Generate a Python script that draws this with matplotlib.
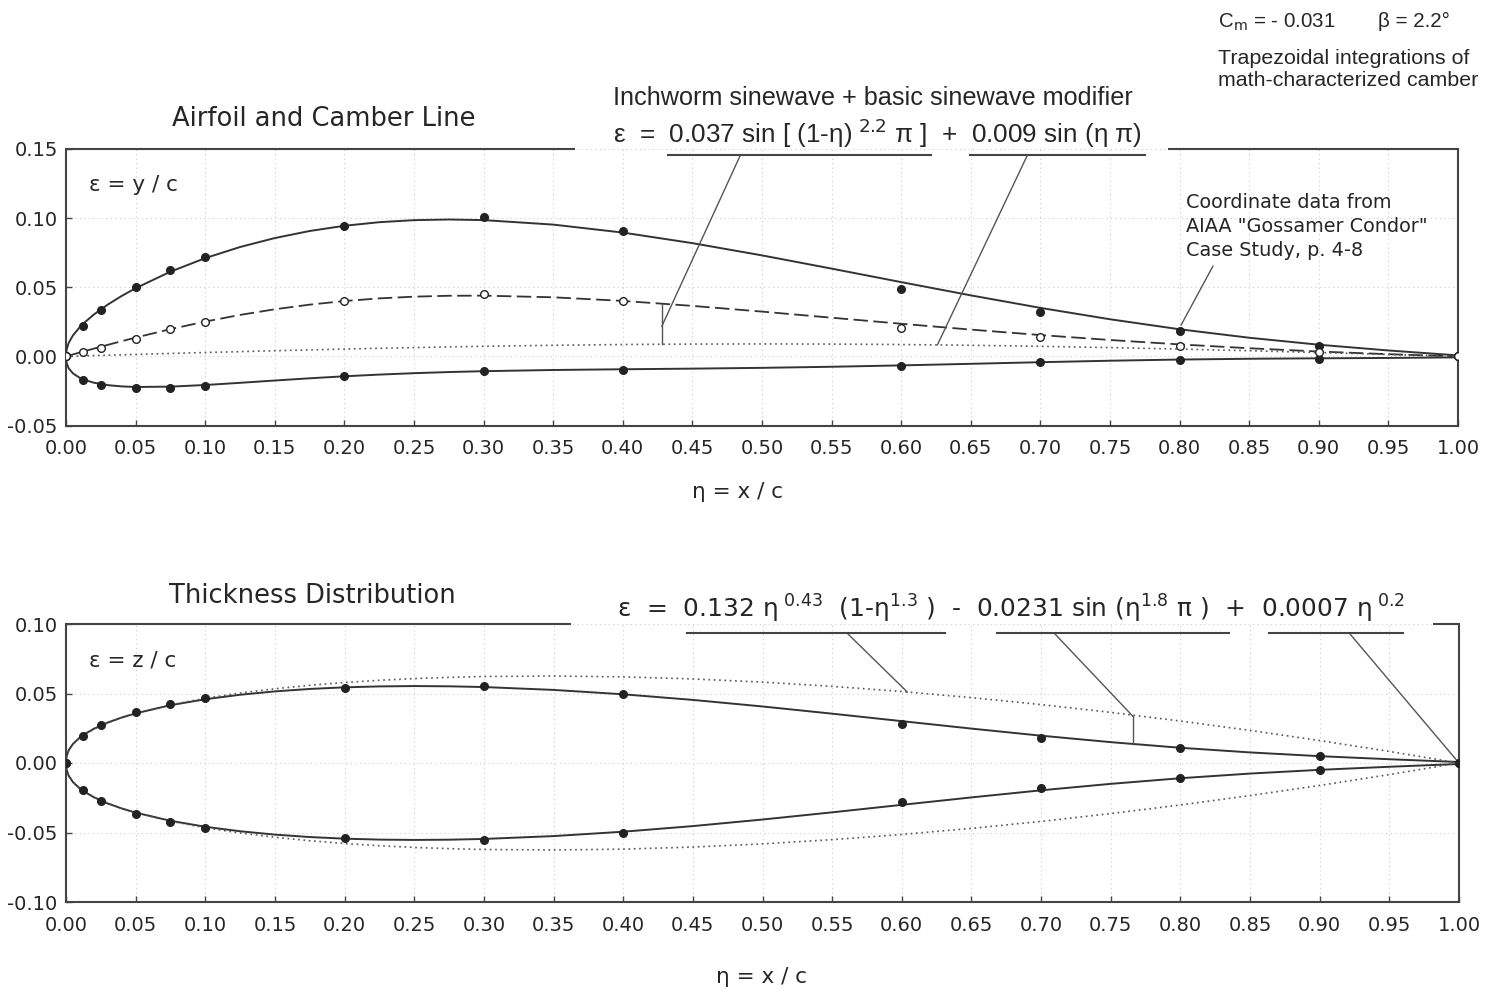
import matplotlib
matplotlib.use("Agg")
import matplotlib.pyplot as plt

plt.rcParams['font.family'] = ['DejaVu Sans']
plt.rcParams['axes.unicode_minus'] = False
plt.rcParams['mathtext.fontset'] = 'dejavusans'

# ------------------------------------------------------------------ data
eta_curve = [0, 0.0005, 0.002, 0.005, 0.01, 0.0125, 0.02, 0.03, 0.04, 0.05,
             0.075, 0.1, 0.125, 0.15, 0.175, 0.2, 0.225, 0.25, 0.275, 0.3, 0.35,
             0.4, 0.45, 0.5, 0.55, 0.6, 0.65, 0.7, 0.75, 0.8, 0.85, 0.9, 0.95, 1.0]

upper_curve = [0, 0.00532, 0.00989, 0.01517, 0.02126, 0.02378, 0.03026, 0.03746,
               0.04371, 0.04929, 0.06126, 0.07105, 0.07909, 0.08559, 0.09068,
               0.09447, 0.09705, 0.09853, 0.09901, 0.09857, 0.09532, 0.08955,
               0.08191, 0.07305, 0.06348, 0.05371, 0.04413, 0.03508, 0.02685,
               0.01960, 0.01348, 0.00843, 0.00428, 0.00070]

lower_curve = [0, -0.00504, -0.00875, -0.01233, -0.01561, -0.01673, -0.01905,
               -0.02081, -0.02173, -0.02213, -0.02189, -0.02071, -0.01913,
               -0.01746, -0.01586, -0.01441, -0.01318, -0.01216, -0.01134,
               -0.01071, -0.00985, -0.00932, -0.00887, -0.00830, -0.00751,
               -0.00652, -0.00538, -0.00421, -0.00315, -0.00229, -0.00173,
               -0.00140, -0.00114, -0.00070]

camber_curve = [0, 0.00014, 0.00057, 0.00142, 0.00282, 0.00352, 0.00560, 0.00833,
                0.01099, 0.01358, 0.01969, 0.02517, 0.02998, 0.03407, 0.03741,
                0.04003, 0.04194, 0.04319, 0.04384, 0.04393, 0.04274, 0.04012,
                0.03652, 0.03238, 0.02798, 0.02360, 0.01937, 0.01543, 0.01185,
                0.00866, 0.00588, 0.00351, 0.00157, 0]

modifier_curve = [0, 0.00001, 0.00006, 0.00014, 0.00028, 0.00035, 0.00057, 0.00085,
                  0.00113, 0.00141, 0.00210, 0.00278, 0.00344, 0.00409, 0.00470,
                  0.00529, 0.00585, 0.00636, 0.00684, 0.00728, 0.00802, 0.00856,
                  0.00889, 0.00900, 0.00889, 0.00856, 0.00802, 0.00728, 0.00636,
                  0.00529, 0.00409, 0.00278, 0.00141, 0]

thick_curve = [0, 0.00518, 0.00932, 0.01375, 0.01844, 0.02025, 0.02465, 0.02913,
               0.03272, 0.03571, 0.04158, 0.04588, 0.04911, 0.05152, 0.05327,
               0.05444, 0.05511, 0.05535, 0.05517, 0.05464, 0.05258, 0.04943,
               0.04539, 0.04067, 0.03549, 0.03011, 0.02475, 0.01965, 0.01500,
               0.01095, 0.00761, 0.00491, 0.00271, 0.00070]

thick_base_curve = [0, 0.00503, 0.00912, 0.01351, 0.01817, 0.01999, 0.02440, 0.02892,
                    0.03257, 0.03566, 0.04184, 0.04659, 0.05037, 0.05342, 0.05591,
                    0.05792, 0.05951, 0.06073, 0.06162, 0.06222, 0.06258, 0.06196,
                    0.06048, 0.05819, 0.05515, 0.05142, 0.04703, 0.04202, 0.03640,
                    0.03019, 0.02344, 0.01615, 0.00833, 0]

eta_data = [0, 0.0125, 0.025, 0.05, 0.075, 0.1, 0.2, 0.3, 0.4, 0.6, 0.7, 0.8, 0.9, 1.0]
upper_data = [0, 0.0220, 0.0337, 0.0502, 0.0624, 0.0717, 0.0941, 0.1005, 0.0910,
              0.0488, 0.0320, 0.0180, 0.0072, 0.0]
lower_data = [0, -0.0171, -0.0210, -0.0232, -0.0232, -0.0217, -0.0144, -0.0107,
              -0.0095, -0.0073, -0.0043, -0.0026, -0.0017, 0.0]
camber_data = [0, 0.0030, 0.0060, 0.0129, 0.0195, 0.0249, 0.0400, 0.0449, 0.0402,
               0.0205, 0.0137, 0.0072, 0.0031, 0.0]
thick_data = [0, 0.0197, 0.0270, 0.0366, 0.0425, 0.0465, 0.0537, 0.0554, 0.0500,
              0.0278, 0.0182, 0.0106, 0.0047, 0.0]

xticks = [i * 0.05 for i in range(21)]
yticks_top = [-0.05, 0.00, 0.05, 0.10, 0.15]
yticks_bot = [-0.10, -0.05, 0.00, 0.05, 0.10]

# ------------------------------------------------------------------ figure
W, H = 1499, 994
fig = plt.figure(figsize=(W / 100, H / 100), dpi=100)
fig.patch.set_facecolor('white')


def fx(x):
    return x / W


def fy(y):
    return 1 - y / H


LINE = '#333333'
SPINE = '#444444'
TXT = '#262626'

ax1 = fig.add_axes([fx(66), fy(425.5), (1458 - 66) / W, (425.5 - 149) / H])
ax2 = fig.add_axes([fx(66), fy(902), (1459 - 66) / W, (902 - 624) / H])


def style(ax, ylim, yticks, top_segments):
    ax.set_xlim(0, 1)
    ax.set_ylim(*ylim)
    ax.set_xticks(xticks)
    ax.set_xticklabels([f"{t:.2f}" for t in xticks])
    ax.set_yticks(yticks)
    ax.set_yticklabels([f"{t:.2f}" for t in yticks])
    ax.grid(True, color='#cccccc', lw=0.8, linestyle=(0, (1, 3)))
    ax.set_axisbelow(True)
    ax.tick_params(axis='x', direction='in', length=4, width=1, colors=SPINE,
                   labelcolor=TXT, labelsize=14, pad=10)
    ax.tick_params(axis='y', direction='in', length=4, width=1, colors=SPINE,
                   labelcolor=TXT, labelsize=14, pad=6)
    for s in ['left', 'bottom', 'right']:
        ax.spines[s].set_linewidth(1.5)
        ax.spines[s].set_color(SPINE)
    ax.spines['top'].set_visible(False)
    for a, b in top_segments:
        ax.plot([a, b], [1, 1], transform=ax.transAxes, color=SPINE, lw=1.5,
                clip_on=False, solid_capstyle='butt')


style(ax1, (-0.05, 0.15), yticks_top, [(0, (575 - 66) / 1392), ((1168 - 66) / 1392, 1)])
style(ax2, (-0.10, 0.10), yticks_bot, [(0, (571 - 66) / 1393), ((1433 - 66) / 1393, 1)])

# ---- top panel curves
ax1.plot(eta_curve, upper_curve, color=LINE, lw=1.4, zorder=3)
ax1.plot(eta_curve, lower_curve, color=LINE, lw=1.4, zorder=3)
ax1.plot(eta_curve, camber_curve, color=LINE, lw=1.3, linestyle=(0, (8, 3.0)), zorder=3)
ax1.plot(eta_curve, modifier_curve, color='#555555', lw=1.2, linestyle=(0, (1, 2.2)), zorder=3)
ax1.plot(eta_data, upper_data, 'o', color='#222222', ms=5.5, zorder=4)
ax1.plot(eta_data, lower_data, 'o', color='#222222', ms=5.5, zorder=4)
ax1.plot(eta_data, camber_data, 'o', mfc='white', mec='#222222', mew=1.0, ms=5.5, zorder=5)

# ---- bottom panel curves
ax2.plot(eta_curve, thick_curve, color=LINE, lw=1.4, zorder=3)
ax2.plot(eta_curve, [-v for v in thick_curve], color=LINE, lw=1.4, zorder=3)
ax2.plot(eta_curve, thick_base_curve, color='#555555', lw=1.2, linestyle=(0, (1, 2.2)), zorder=3)
ax2.plot(eta_curve, [-v for v in thick_base_curve], color='#555555', lw=1.2,
         linestyle=(0, (1, 2.2)), zorder=3)
ax2.plot(eta_data, thick_data, 'o', color='#222222', ms=5.5, zorder=4)
ax2.plot(eta_data, [-v for v in thick_data], 'o', color='#222222', ms=5.5, zorder=4)

# ------------------------------------------------------------------ texts
fig.text(fx(324), fy(119), "Airfoil and Camber Line", ha='center', va='center',
         fontsize=18.5, color=TXT)
fig.text(fx(312), fy(596), "Thickness Distribution", ha='center', va='center',
         fontsize=18.5, color=TXT)
fig.text(fx(738), fy(492), "η = x / c", ha='center', va='center', fontsize=15.5, color=TXT)
fig.text(fx(762), fy(977), "η = x / c", ha='center', va='center', fontsize=15.5, color=TXT)
fig.text(fx(89), fy(185), "ε = y / c", ha='left', va='center', fontsize=15.5, color=TXT)
fig.text(fx(89), fy(660), "ε = z / c", ha='left', va='center', fontsize=15.5, color=TXT)

fig.text(fx(613), fy(98), "Inchworm sinewave + basic sinewave modifier",
         family='Liberation Sans', fontsize=18.2, ha='left', va='center', color=TXT)
fig.text(fx(613), fy(143),
         "ε  =  0.037 sin [ (1-η)$^{\\ 2.2}$ π ]  +  0.009 sin (η π)",
         family='Liberation Sans', fontsize=18.8, ha='left', va='baseline', color=TXT)

fig.text(fx(617), fy(618),
         "ε  =  0.132 η$^{\\ 0.43}$  (1-η$^{1.3}$ )  -  0.0231 sin (η$^{1.8}$ π )  +  0.0007 η$^{\\ 0.2}$",
         fontsize=17.9, ha='left', va='baseline', color=TXT)

fig.text(fx(1218), fy(27), "C$_{\\mathrm{m}}$ = - 0.031", family='Liberation Sans',
         fontsize=14.8, ha='left', va='baseline', color=TXT)
fig.text(fx(1378), fy(27), "β = 2.2°", family='Liberation Sans',
         fontsize=14.8, ha='left', va='baseline', color=TXT)
fig.text(fx(1218), fy(58), "Trapezoidal integrations of", family='Liberation Sans',
         fontsize=15.4, ha='left', va='center', color=TXT)
fig.text(fx(1218), fy(80), "math-characterized camber", family='Liberation Sans',
         fontsize=15.4, ha='left', va='center', color=TXT)

for i, line in enumerate(["Coordinate data from", 'AIAA "Gossamer Condor"', "Case Study, p. 4-8"]):
    fig.text(fx(1186), fy(203 + 23.5 * i), line, fontsize=13.9, ha='left', va='center',
             color=TXT)

# ------------------------------------------------------------------ underlines & leaders
def hline(x0, x1, y):
    fig.add_artist(plt.Line2D([fx(x0), fx(x1)], [fy(y), fy(y)], transform=fig.transFigure,
                              color=SPINE, lw=1.5))


def leader(ax, start_px, xy):
    ax.annotate('', xy=xy, xycoords='data', xytext=(fx(start_px[0]), fy(start_px[1])),
                textcoords='figure fraction',
                arrowprops=dict(arrowstyle='-', lw=1.0, color='#555555',
                                shrinkA=0, shrinkB=0), annotation_clip=False)


hline(668, 931, 155)
hline(970, 1145, 155)
leader(ax1, (740, 156), (0.428, 0.0217))
ax1.plot([0.428, 0.428], [0.0377, 0.0093], color='#555555', lw=1.0, zorder=4)
leader(ax1, (1027, 156), (0.626, 0.0083))
leader(ax1, (1213, 266), (0.801, 0.0225))

hline(687, 945, 633)
hline(997, 1229, 633)
hline(1269, 1403, 633)
leader(ax2, (848, 634), (0.604, 0.0510))
leader(ax2, (1055, 634), (0.766, 0.0335))
ax2.plot([0.766, 0.766], [0.0335, 0.0134], color='#555555', lw=1.0, zorder=4)
leader(ax2, (1350, 634), (1.0, 0.0))

fig.savefig("out.png", dpi=100, facecolor='white')
